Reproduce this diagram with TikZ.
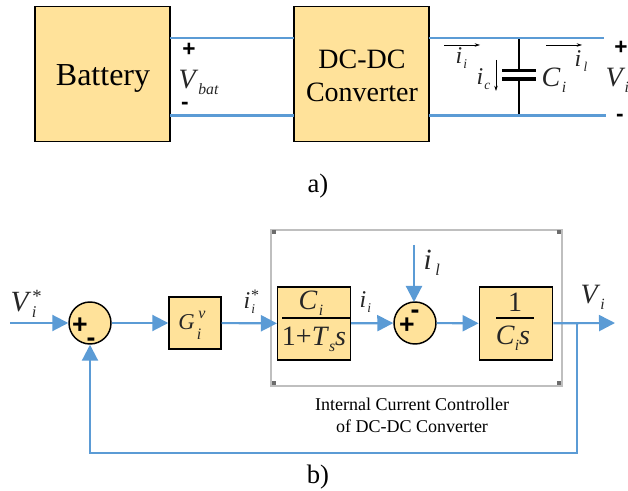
\documentclass[tikz,border=0pt]{standalone}
\usepackage{fontspec}
\setmainfont{Liberation Serif}
\setsansfont{Liberation Sans}
\usetikzlibrary{arrows.meta}
\definecolor{boxfill}{HTML}{FFE29A}
\definecolor{wire}{HTML}{5B9BD5}
\definecolor{frameline}{HTML}{BFBFBF}
\definecolor{symtext}{HTML}{262626}
% symbol with a lowered, set-off subscript
\newcommand{\symb}[3][0.05em]{\textit{#2}\kern#1\raisebox{-0.22em}{\scalebox{0.56}{\textit{#3}}}}

\begin{document}
\begin{tikzpicture}[x=0.75pt,y=-0.75pt,line width=0.9pt,
  blockbox/.style={draw=black,fill=boxfill,inner sep=0pt,line width=1.1pt},
  sumnode/.style={circle,draw=black,fill=boxfill,minimum size=31.5pt,inner sep=0pt,line width=1.1pt},
  wireline/.style={draw=wire,line width=1.6pt},
  flow/.style={wireline,-{Triangle[length=12pt,width=12pt,fill=wire]}},
  current/.style={-{Stealth[length=4pt,width=2.6pt]},line width=0.4pt},
  sign/.style={font=\sffamily\bfseries\fontsize{17}{17}\selectfont,inner sep=0pt},
  signbig/.style={font=\sffamily\bfseries\fontsize{20}{20}\selectfont,inner sep=0pt},
  sym/.style={font=\fontsize{21}{21}\selectfont,text=symtext,inner sep=0pt},
  symsmall/.style={font=\fontsize{18}{18}\selectfont,text=symtext,inner sep=0pt},
  handle/.style={fill=gray!85!black,minimum size=3.4pt,inner sep=0pt}]
\useasboundingbox (0,0) rectangle (628,491);
% ---------- a) battery and converter ----------
\node[blockbox,minimum width=101pt,minimum height=101pt] (bat) at (102.5,74) {};
\node[blockbox,minimum width=101pt,minimum height=101pt] (conv) at (361.5,74) {};
\node[font=\fontsize{24}{24}\selectfont,inner sep=0pt] (battxt) at (103,78) {Battery};
\node[font=\fontsize{21}{24.5}\selectfont,align=center,inner sep=0pt] (convtxt) at (362,76) {DC-DC\\Converter};
\coordinate (batp) at (170,38);
\coordinate (batn) at (170,115.5);
\coordinate (convlp) at (294,38);
\coordinate (convln) at (294,115.5);
\coordinate (convrp) at (429,38);
\coordinate (convrn) at (429,115.5);
\coordinate (outp) at (604,38);
\coordinate (outn) at (606,115.5);
\draw[wireline] (batp) -- (convlp);
\draw[wireline] (batn) -- (convln);
% capacitor
\coordinate (capt) at (519,38);
\coordinate (capb) at (519,115.5);
\coordinate (plateat) at (519,70.5);
\coordinate (platebt) at (519,79);
\draw[line width=1.3pt] (capt) -- (plateat);
\draw[line width=1.3pt] (platebt) -- (capb);
\draw[line width=2.4pt] (502,70.5) -- (536,70.5);
\draw[line width=2.4pt] (502,79) -- (536,79);
\draw[wireline] (convrp) -- (outp);
\draw[wireline] (convrn) -- (outn);
\node[sign] (batplus) at (189,50) {+};
\node[sign] (batminus) at (185,106) {-};
\node[sign] (outplus) at (621,48) {+};
\node[sign] (outminus) at (620,118) {-};
\node[sym,anchor=west] (vbat) at (178,82) {\symb[0em]{V}{bat}};
\node[sym,anchor=west] (vout) at (605,80) {\symb[-0.03em]{V}{i}};
\node[symsmall,anchor=west] (ii) at (455,58) {\symb{i}{i}};
\node[symsmall,anchor=west] (ic) at (476,79) {\symb{i}{c}};
\node[sym,anchor=west] (ci) at (541,80) {\symb{C}{i}};
\node[symsmall,anchor=west] (il) at (574,61) {\symb[0.1em]{i}{l}};
\draw[current] (444,45) -- (480,45);
\draw[current] (496,60) -- (496,91);
\draw[current] (546,45) -- (582,45);
\node[font=\fontsize{20}{20}\selectfont,inner sep=0pt] (capa) at (318,186) {a)};
% ---------- b) control loop ----------
\draw[frameline,line width=1pt] (271,230) rectangle (562,386);
\foreach \hx/\hy in {274/232,559/232,274/383,559/383}
  \node[handle] (h\hx\hy) at (\hx,\hy) {};
\coordinate (vref) at (10,323);
\node[sumnode] (sumv) at (90,323) {};
\node[blockbox,minimum width=39pt,minimum height=39pt] (gain) at (195,323) {};
\node[blockbox,minimum width=54.5pt,minimum height=54.5pt] (fcl) at (314,323.5) {};
\node[sumnode] (sumi) at (415,323) {};
\node[blockbox,minimum width=55pt,minimum height=54.5pt] (plant) at (516,323.5) {};
\coordinate (iltop) at (414,245);
\coordinate (sumitop) at (414,302);
\coordinate (outv) at (615,323);
\coordinate (branch) at (577,323);
\coordinate (fbr) at (577,453);
\coordinate (fbl) at (90,453);
\draw[flow] (vref) -- (sumv);
\draw[flow] (sumv) -- (gain);
\draw[flow] (gain) -- (fcl);
\draw[flow] (fcl) -- (sumi);
\draw[flow] (sumi) -- (plant);
\draw[flow] (plant) -- (outv);
\draw[flow] (iltop) -- (sumitop);
\draw[flow] (branch) -- (fbr) -- (fbl) -- (sumv);
% signs on the summing nodes
\node[signbig] (pv) at (80,326) {+};
\node[signbig] (mv) at (91,342) {-};
\node[signbig] (pi) at (407,326) {+};
\node[signbig] (mi) at (415,314) {-};
% block contents
\node[sym,font=\fontsize{17}{17}\selectfont] (gaintxt) at (186.5,322) {\textit{G}};
\node[font=\fontsize{12}{12}\selectfont,text=symtext,inner sep=0pt] (gainsup) at (202,315) {\textit{v}};
\node[font=\fontsize{12}{12}\selectfont,text=symtext,inner sep=0pt] (gainsub) at (199,334) {\textit{i}};
\node[sym] (fclnum) at (311,303) {\symb{C}{i}};
\draw[line width=0.8pt] (282,318) -- (350,318);
\node[sym] (fcldnm) at (314,339) {1+\symb[0em]{T}{s}\textit{s}};
\node[sym] (plantnum) at (515,302) {1};
\draw[line width=0.8pt] (496,318) -- (534,318);
\node[sym] (plantdnm) at (513,338) {\symb[0em]{C}{i}\textit{s}};
% signal labels
\node[sym,font=\fontsize{22}{22}\selectfont,anchor=west] (vreftxt) at (10,305) {\symb[0.02em]{V}{i}};
\node[font=\fontsize{14}{14}\selectfont,text=symtext,inner sep=0pt] (vrefstar) at (37,296) {*};
\node[symsmall,anchor=west] (istar) at (243,303) {\symb{i}{i}};
\node[font=\fontsize{12}{12}\selectfont,text=symtext,inner sep=0pt] (istarsup) at (255,295) {*};
\node[symsmall,anchor=west] (iitxt) at (359,302) {\symb{i}{i}};
\node[sym,font=\fontsize{22}{22}\selectfont,anchor=west] (iltxt) at (423,263) {\symb[0.12em]{i}{l}};
\node[sym,anchor=west] (vtxt) at (580,297) {\symb[0em]{V}{i}};
\node[align=center,font=\fontsize{13.5}{16.5}\selectfont,inner sep=0pt] (ctrltxt) at (412,415) {Internal Current Controller\\of DC-DC Converter};
\node[font=\fontsize{20}{20}\selectfont,inner sep=0pt] (capb) at (318,477) {b)};
\end{tikzpicture}
\end{document}
